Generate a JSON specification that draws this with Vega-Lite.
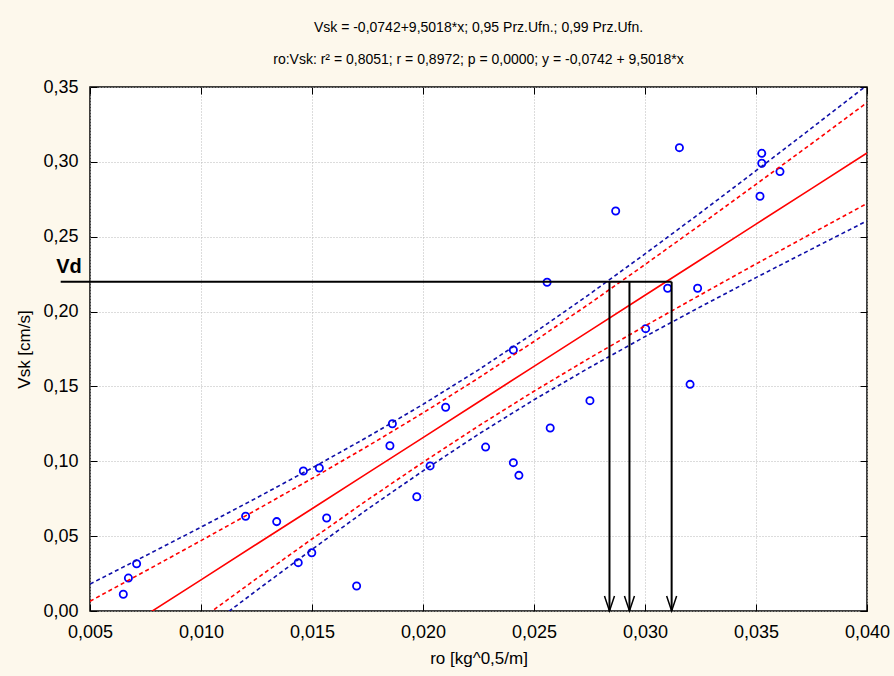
{
  "$schema": "https://vega.github.io/schema/vega-lite/v6.json",
  "autosize": {"type": "none"},
  "width": 777,
  "height": 524,
  "padding": {"left": 90, "top": 87, "right": 27, "bottom": 65},
  "background": "#fdf8ec",
  "config": {
    "view": {"fill": "#ffffff", "stroke": "#000000", "strokeWidth": 1.5},
    "font": "Liberation Sans"
  },
  "title": {
    "text": ["Vsk = -0,0742+9,5018*x; 0,95 Prz.Ufn.; 0,99 Prz.Ufn.", "ro:Vsk:  r² = 0,8051;  r = 0,8972; p = 0,0000;  y = -0,0742 + 9,5018*x"],
    "font": "Liberation Sans",
    "fontSize": 14,
    "fontWeight": "normal",
    "color": "#000000",
    "lineHeight": 32,
    "anchor": "middle",
    "frame": "group",
    "baseline": "bottom",
    "offset": -3
  },
  "datasets": {
    "pts": [
      {"ro": 0.0065, "vsk": 0.0112}, {"ro": 0.00673, "vsk": 0.0220}, {"ro": 0.0071, "vsk": 0.0316},
      {"ro": 0.01201, "vsk": 0.0633}, {"ro": 0.01341, "vsk": 0.0597}, {"ro": 0.01438, "vsk": 0.0323},
      {"ro": 0.01461, "vsk": 0.0935}, {"ro": 0.01499, "vsk": 0.0389}, {"ro": 0.01533, "vsk": 0.0955},
      {"ro": 0.01566, "vsk": 0.0621}, {"ro": 0.01701, "vsk": 0.0167}, {"ro": 0.01851, "vsk": 0.1104},
      {"ro": 0.01862, "vsk": 0.1251}, {"ro": 0.01972, "vsk": 0.0763}, {"ro": 0.02032, "vsk": 0.0969},
      {"ro": 0.02102, "vsk": 0.1361}, {"ro": 0.02282, "vsk": 0.1095}, {"ro": 0.02407, "vsk": 0.0991},
      {"ro": 0.02432, "vsk": 0.0906}, {"ro": 0.02407, "vsk": 0.1743}, {"ro": 0.02559, "vsk": 0.2196},
      {"ro": 0.02573, "vsk": 0.1222}, {"ro": 0.02752, "vsk": 0.1405}, {"ro": 0.02868, "vsk": 0.2672},
      {"ro": 0.03003, "vsk": 0.1886}, {"ro": 0.03102, "vsk": 0.2156}, {"ro": 0.03155, "vsk": 0.3095},
      {"ro": 0.03203, "vsk": 0.1514}, {"ro": 0.03237, "vsk": 0.2156}, {"ro": 0.03518, "vsk": 0.2770},
      {"ro": 0.03526, "vsk": 0.3057}, {"ro": 0.03526, "vsk": 0.2991}, {"ro": 0.03608, "vsk": 0.2935}
    ],
    "bands": [
      {"ro": 0.005, "fit": -0.0267, "lo99": -0.0714, "lo95": -0.0599, "hi95": 0.0065, "hi99": 0.0180},
      {"ro": 0.0075, "fit": -0.0029, "lo99": -0.0427, "lo95": -0.0325, "hi95": 0.0267, "hi99": 0.0369},
      {"ro": 0.010, "fit": 0.0208, "lo99": -0.0144, "lo95": -0.0054, "hi95": 0.0470, "hi99": 0.0560},
      {"ro": 0.0125, "fit": 0.0446, "lo99": 0.0137, "lo95": 0.0216, "hi95": 0.0676, "hi99": 0.0755},
      {"ro": 0.015, "fit": 0.0683, "lo99": 0.0411, "lo95": 0.0481, "hi95": 0.0885, "hi99": 0.0955},
      {"ro": 0.0175, "fit": 0.0921, "lo99": 0.0680, "lo95": 0.0742, "hi95": 0.1100, "hi99": 0.1162},
      {"ro": 0.020, "fit": 0.1158, "lo99": 0.0936, "lo95": 0.0993, "hi95": 0.1323, "hi99": 0.1380},
      {"ro": 0.0225, "fit": 0.1396, "lo99": 0.1181, "lo95": 0.1236, "hi95": 0.1556, "hi99": 0.1611},
      {"ro": 0.025, "fit": 0.1634, "lo99": 0.1411, "lo95": 0.1468, "hi95": 0.1800, "hi99": 0.1857},
      {"ro": 0.0275, "fit": 0.1871, "lo99": 0.1626, "lo95": 0.1689, "hi95": 0.2053, "hi99": 0.2116},
      {"ro": 0.030, "fit": 0.2109, "lo99": 0.1833, "lo95": 0.1904, "hi95": 0.2314, "hi99": 0.2385},
      {"ro": 0.0325, "fit": 0.2346, "lo99": 0.2032, "lo95": 0.2112, "hi95": 0.2580, "hi99": 0.2660},
      {"ro": 0.035, "fit": 0.2584, "lo99": 0.2227, "lo95": 0.2318, "hi95": 0.2850, "hi99": 0.2941},
      {"ro": 0.0375, "fit": 0.2821, "lo99": 0.2417, "lo95": 0.2521, "hi95": 0.3121, "hi99": 0.3225},
      {"ro": 0.040, "fit": 0.3059, "lo99": 0.2606, "lo95": 0.2722, "hi95": 0.3396, "hi99": 0.3512}
    ],
    "arrows": [
      {"ro": 0.0284, "top": 0.22, "bottom": 0},
      {"ro": 0.0293, "top": 0.22, "bottom": 0},
      {"ro": 0.0312, "top": 0.22, "bottom": 0}
    ],
    "vd": [
      {"x1": 0.00368, "x2": 0.0312, "v": 0.22, "label": "Vd", "lx": 0.00405, "ly": 0.2295}
    ]
  },
  "layer": [
    {
      "data": {"name": "pts"},
      "mark": {"type": "point", "shape": "circle", "filled": false, "color": "#0000ff", "strokeWidth": 1.8, "size": 52, "opacity": 1},
      "encoding": {
        "x": {"field": "ro", "type": "quantitative",
          "scale": {"domain": [0.005, 0.04], "nice": false, "zero": false},
          "axis": {"orient": "bottom", "title": "ro [kg^0,5/m]", "titleFontSize": 17, "titleFontWeight": "normal", "titleColor": "#000000", "titlePadding": 9,
            "values": [0.005, 0.010, 0.015, 0.020, 0.025, 0.030, 0.035, 0.040],
            "labelExpr": "replace(format(datum.value, '.3f'), '.', ',')",
            "labelFontSize": 18, "labelColor": "#000000", "labelPadding": 19, "labelFlush": false, "labelOverlap": false,
            "domain": false, "tickColor": "#000000", "tickWidth": 1, "tickSize": -7,
            "grid": true, "gridColor": "#b8b8b8", "gridDash": [1, 2], "gridWidth": 1}},
        "y": {"field": "vsk", "type": "quantitative",
          "scale": {"domain": [0, 0.35], "nice": false, "zero": false},
          "axis": {"orient": "left", "title": "Vsk [cm/s]", "titleFontSize": 17, "titleFontWeight": "normal", "titleColor": "#000000", "titlePadding": 9,
            "values": [0, 0.05, 0.10, 0.15, 0.20, 0.25, 0.30, 0.35],
            "labelExpr": "replace(format(datum.value, '.2f'), '.', ',')",
            "labelFontSize": 18, "labelColor": "#000000", "labelPadding": 19, "labelFlush": false, "labelOverlap": false,
            "domain": false, "tickColor": "#000000", "tickWidth": 1, "tickSize": -7,
            "grid": true, "gridColor": "#b8b8b8", "gridDash": [1, 2], "gridWidth": 1}}
      }
    },
    {
      "data": {"name": "bands"},
      "mark": {"type": "line", "clip": true, "color": "#ff0000", "strokeWidth": 1.6},
      "encoding": {
        "x": {"field": "ro", "type": "quantitative",
          "axis": {"orient": "top", "labels": false, "grid": false, "domain": false, "title": null,
            "values": [0.005, 0.010, 0.015, 0.020, 0.025, 0.030, 0.035, 0.040],
            "tickColor": "#000000", "tickWidth": 1, "tickSize": -7}},
        "y": {"field": "fit", "type": "quantitative",
          "axis": {"orient": "right", "labels": false, "grid": false, "domain": false, "title": null,
            "values": [0, 0.05, 0.10, 0.15, 0.20, 0.25, 0.30, 0.35],
            "tickColor": "#000000", "tickWidth": 1, "tickSize": -7}}
      }
    },
    {
      "data": {"name": "bands"},
      "mark": {"type": "line", "clip": true, "color": "#ff0000", "strokeWidth": 1.6, "strokeDash": [4, 3]},
      "encoding": {
        "x": {"field": "ro", "type": "quantitative", "axis": null},
        "y": {"field": "hi95", "type": "quantitative", "axis": null}
      }
    },
    {
      "data": {"name": "bands"},
      "mark": {"type": "line", "clip": true, "color": "#ff0000", "strokeWidth": 1.6, "strokeDash": [4, 3]},
      "encoding": {
        "x": {"field": "ro", "type": "quantitative", "axis": null},
        "y": {"field": "lo95", "type": "quantitative", "axis": null}
      }
    },
    {
      "data": {"name": "bands"},
      "mark": {"type": "line", "clip": true, "color": "#1010a8", "strokeWidth": 1.6, "strokeDash": [4, 3]},
      "encoding": {
        "x": {"field": "ro", "type": "quantitative", "axis": null},
        "y": {"field": "hi99", "type": "quantitative", "axis": null}
      }
    },
    {
      "data": {"name": "bands"},
      "mark": {"type": "line", "clip": true, "color": "#1010a8", "strokeWidth": 1.6, "strokeDash": [4, 3]},
      "encoding": {
        "x": {"field": "ro", "type": "quantitative", "axis": null},
        "y": {"field": "lo99", "type": "quantitative", "axis": null}
      }
    },
    {
      "data": {"name": "vd"},
      "mark": {"type": "rule", "clip": false, "color": "#000000", "strokeWidth": 2},
      "encoding": {
        "x": {"field": "x1", "type": "quantitative", "axis": null},
        "x2": {"field": "x2"},
        "y": {"field": "v", "type": "quantitative", "axis": null}
      }
    },
    {
      "data": {"name": "vd"},
      "mark": {"type": "text", "clip": false, "color": "#000000", "fontSize": 20, "fontWeight": "bold", "font": "Liberation Sans", "align": "center", "baseline": "middle"},
      "encoding": {
        "x": {"field": "lx", "type": "quantitative", "axis": null},
        "y": {"field": "ly", "type": "quantitative", "axis": null},
        "text": {"field": "label"}
      }
    },
    {
      "data": {"name": "arrows"},
      "mark": {"type": "rule", "color": "#000000", "strokeWidth": 2},
      "encoding": {
        "x": {"field": "ro", "type": "quantitative", "axis": null},
        "y": {"field": "top", "type": "quantitative", "axis": null},
        "y2": {"field": "bottom"}
      }
    },
    {
      "data": {"name": "arrows"},
      "mark": {"type": "point", "shape": "M-1,-3L0,0L1,-3", "filled": false, "color": "#000000", "strokeWidth": 1.5, "size": 100, "opacity": 1},
      "encoding": {
        "x": {"field": "ro", "type": "quantitative", "axis": null},
        "y": {"field": "bottom", "type": "quantitative", "axis": null}
      }
    }
  ]
}
